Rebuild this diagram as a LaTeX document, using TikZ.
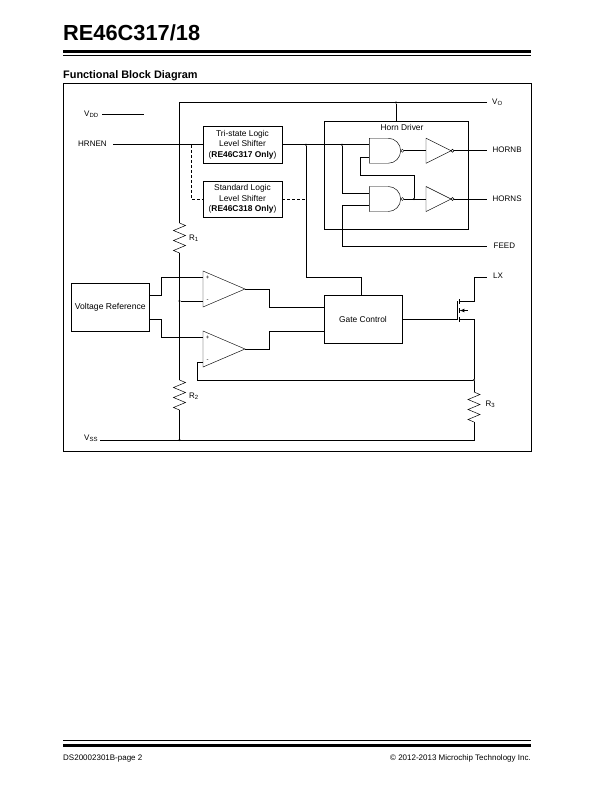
\documentclass[tikz,border=0pt]{standalone}
\usepackage{fontspec}
\setmainfont{Liberation Sans}
\usepackage{xcolor}
\usepackage{tikz}
\usetikzlibrary{shapes.geometric, shapes.gates.logic.US, decorations.pathmorphing, positioning, calc}

\begin{document}
\begin{tikzpicture}[
  x=1pt, y=-1pt,
  blockbox/.style={rectangle, draw, line width=0.7pt, inner sep=0pt, outer sep=0pt, font=\fontsize{8.4}{10.4}\selectfont, align=center},
  wire/.style={line width=0.7pt},
  dashwire/.style={line width=0.7pt, dash pattern=on 3pt off 2pt},
  pinlabel/.style={font=\fontsize{8}{9}\selectfont, inner sep=0pt, anchor=west},
  dot/.style={circle, fill, inner sep=0pt, minimum size=2.4pt},
  opamp/.style={isosceles triangle, isosceles triangle stretches, draw, line width=0.45pt, shape border rotate=0, minimum width=36pt, minimum height=42pt, inner sep=0pt, outer sep=0pt, anchor=lower side},
  nandgate/.style={nand gate US, draw, line width=0.45pt, logic gate inputs=nn, logic gate inverted radius=1.5pt, minimum width=31pt, minimum height=25pt, inner sep=0pt, outer sep=0pt},
  invgate/.style={isosceles triangle, isosceles triangle stretches, draw, line width=0.45pt, shape border rotate=0, minimum width=25pt, minimum height=25pt, inner sep=0pt, outer sep=0pt, anchor=lower side},
  bubble/.style={circle, draw, line width=0.45pt, inner sep=0pt, outer sep=0pt, minimum size=3pt, anchor=west},
  resistor/.style={line width=0.5pt, decorate, decoration={zigzag, segment length=10pt, amplitude=6pt}},
  signplus/.style={font=\fontsize{6}{6}\selectfont, inner sep=0pt}
]
  \useasboundingbox (0,0) rectangle (612,792);

  \node[font=\bfseries\fontsize{21.8}{24}\selectfont, inner sep=0pt, anchor=base west] (title) at (63,41) {RE46C317/18};
  \node[font=\bfseries\fontsize{10.9}{12}\selectfont, inner sep=0pt, anchor=base west] (heading) at (63,78.5) {Functional Block Diagram};
  \node[font=\fontsize{8}{9}\selectfont, inner sep=0pt, anchor=base west] (pageno) at (63,760.5) {DS20002301B-page 2};
  \node[font=\fontsize{8}{9}\selectfont, inner sep=0pt, anchor=base east] (copyr) at (531,760.5) {© 2012-2013 Microchip Technology Inc.};

  \coordinate (rt1) at (63,51.7);   \coordinate (rt2) at (531,51.7);
  \coordinate (rs1) at (63,55.3);   \coordinate (rs2) at (531,55.3);
  \coordinate (fs1) at (63,740.5);  \coordinate (fs2) at (531,740.5);
  \coordinate (ft1) at (63,745.7);  \coordinate (ft2) at (531,745.7);
  \draw[line width=3pt] (rt1) -- (rt2);
  \draw[line width=0.7pt] (rs1) -- (rs2);
  \draw[line width=0.9pt] (fs1) -- (fs2);
  \draw[line width=3pt] (ft1) -- (ft2);

  \node[blockbox, minimum width=467.5pt, minimum height=368pt] (frame) at (297.25,267.5) {};

  \node[blockbox] (shift1) at (242.5,144.75) [minimum width=79pt, minimum height=36.5pt] {Tri-state Logic\\Level Shifter\\(\textbf{RE46C317 Only})};
  \node[blockbox] (shift2) at (242.5,199) [minimum width=79pt, minimum height=36pt] {Standard Logic\\Level Shifter\\(\textbf{RE46C318 Only})};
  \node[blockbox] (horn) at (396,175.25) [minimum width=144pt, minimum height=108.5pt] {};
  \node[font=\fontsize{8.4}{9}\selectfont, inner sep=0pt] (hornlbl) at (402,127.5) {Horn Driver};
  \node[blockbox, font=\fontsize{8.6}{10}\selectfont] (vref) at (110.25,307) [minimum width=78.5pt, minimum height=48pt] {Voltage Reference};
  \node[blockbox] (gatectl) at (363,319) [minimum width=78pt, minimum height=48pt] {Gate Control};

  \node[opamp] (amp1) at (203,289) {};
  \node[opamp] (amp2) at (203,349) {};
  \node[signplus] (amp1p) at (207.5,278) {+};
  \node[signplus] (amp1m) at (207.5,300.5) {-};
  \node[signplus] (amp2p) at (207.5,338) {+};
  \node[signplus] (amp2m) at (207.5,361) {-};

  \node[nandgate] (nand1) at (384,150.75) {};
  \node[nandgate] (nand2) at (384,199) {};
  \node[invgate] (inv1) at (426,150.75) {};
  \node[invgate] (inv2) at (426,199) {};
  \node[bubble] (bub1) at (inv1.apex) {};
  \node[bubble] (bub2) at (inv2.apex) {};

  \node[pinlabel] (vdd) at (84,114.5) {V\textsubscript{DD}};
  \node[pinlabel] (hrnen) at (78,144) {HRNEN};
  \node[pinlabel] (vo) at (492,102) {V\textsubscript{O}};
  \node[pinlabel] (hornb) at (492.5,150) {HORNB};
  \node[pinlabel] (horns) at (492.5,198.5) {HORNS};
  \node[pinlabel] (feed) at (493.5,246) {FEED};
  \node[pinlabel] (lx) at (493,276) {LX};
  \node[pinlabel] (vss) at (84,438.5) {V\textsubscript{SS}};
  \node[pinlabel] (r1) at (189,238) {R\textsubscript{1}};
  \node[pinlabel] (r2) at (189,396) {R\textsubscript{2}};
  \node[pinlabel] (r3) at (485.5,404.5) {R\textsubscript{3}};

  \coordinate (vddend) at (144,114.5);
  \coordinate (vddstart) at (102,114.5);
  \draw[wire] (vddstart) -- (vddend);

  \coordinate (hrnenstart) at (113,144.75);
  \draw[wire] (hrnenstart) -- (shift1.west);
  \coordinate (dashsplit) at (191.5,144.75);
  \draw[dashwire] (dashsplit) |- (shift2.west);
  \coordinate (dashend) at (305,199);
  \draw[dashwire] (shift2.east) -- (dashend);

  \coordinate (railtop) at (179.5,102.5);
  \coordinate (voend) at (487,102.5);
  \coordinate (r1top) at (179.5,223);
  \coordinate (r1bot) at (179.5,253);
  \coordinate (r2top) at (179.5,380);
  \coordinate (r2bot) at (179.5,410);
  \node[dot] (jvo) at (396,102.5) {};
  \node[dot] (jminus) at (179.5,301) {};
  \node[dot] (jvss) at (179.5,440) {};
  \draw[wire] (voend) -- (railtop) -- (r1top);
  \draw[resistor] (r1top) -- (r1bot);
  \draw[wire] (r1bot) -- (r2top);
  \draw[resistor] (r2top) -- (r2bot);
  \draw[wire] (r2bot) -- (jvss);
  \draw[wire] (jvo) -- (jvo |- horn.north);

  \node[dot] (jlogic) at (306,144.75) {};
  \node[dot] (jnand) at (342,144.75) {};
  \coordinate (n1in1) at (368.5,144.75);
  \coordinate (n1in2) at (368.5,157.5);
  \coordinate (n2in1) at (368.5,193);
  \coordinate (n2in2) at (368.5,205.7);
  \draw[wire] (shift1.east) -- (n1in1);
  \draw[wire] (jnand) |- (n2in1);
  \coordinate (gatebend) at (361,277);
  \draw[wire] (jlogic) |- (gatebend) -- (gatebend |- gatectl.north);

  \coordinate (feedend) at (487,246.75);
  \draw[wire] (n2in2) -| (342,246.75) -- (feedend);

  \node[dot] (jfb) at (414,199) {};
  \coordinate (fbtop) at (414,175);
  \coordinate (fbleft) at (360,175);
  \draw[wire] (jfb) -- (fbtop) -- (fbleft) |- (n1in2);
  \draw[wire] (nand1.output) -- (inv1.lower side);
  \draw[wire] (nand2.output) -- (inv2.lower side);
  \coordinate (hornbend) at (487,150.75);
  \coordinate (hornsend) at (487,199);
  \draw[wire] (bub1.east) -- (hornbend);
  \draw[wire] (bub2.east) -- (hornsend);

  \coordinate (vr1) at (149.5,295);
  \coordinate (vr2) at (149.5,319);
  \coordinate (vrup) at (161,295);
  \coordinate (vrdn) at (161,319);
  \coordinate (ampin1) at (203,277.5);
  \coordinate (ampin2) at (203,337);
  \coordinate (ampin3) at (203,301);
  \coordinate (ampin4) at (203,362);
  \draw[wire] (vr1) -- (vrup) |- (ampin1);
  \draw[wire] (vr2) -- (vrdn) |- (ampin2);
  \draw[wire] (jminus) -- (ampin3);

  \coordinate (ampout1) at (269,289);
  \coordinate (ampout2) at (269,349);
  \coordinate (gcin1) at (324,307);
  \coordinate (gcin2) at (324,331);
  \draw[wire] (amp1.apex) -- (ampout1) |- (gcin1);
  \draw[wire] (amp2.apex) -- (ampout2) |- (gcin2);

  \node[dot] (jfbk) at (474,380) {};
  \coordinate (fbkleft) at (197,380);
  \draw[wire] (ampin4) -- (197,362) -- (fbkleft) -- (jfbk);

  \coordinate (gateplate) at (457.5,319);
  \coordinate (gatetop) at (457.5,300.5);
  \draw[wire] (gatectl.east) -- (gateplate);
  \draw[wire] (gateplate) -- (gatetop);
  \coordinate (ch1a) at (459.5,299);   \coordinate (ch1b) at (459.5,304);
  \coordinate (ch2a) at (459.5,308);   \coordinate (ch2b) at (459.5,313);
  \coordinate (ch3a) at (459.5,317);   \coordinate (ch3b) at (459.5,322);
  \draw[wire] (ch1a) -- (ch1b);
  \draw[wire] (ch2a) -- (ch2b);
  \draw[wire] (ch3a) -- (ch3b);
  \coordinate (drain) at (459.5,301.5);
  \coordinate (drainup) at (474,277);
  \coordinate (lxend) at (487,277);
  \draw[wire] (drain) -| (drainup) -- (lxend);
  \coordinate (source) at (459.5,319.5);
  \coordinate (r3top) at (474,392);
  \coordinate (r3bot) at (474,422);
  \draw[wire] (source) -| (jfbk) -- (r3top);
  \draw[resistor] (r3top) -- (r3bot);
  \coordinate (body) at (467.5,310.5);
  \coordinate (bodytip) at (459.5,310.5);
  \draw[wire, -latex] (body) -- (bodytip);

  \coordinate (vssstart) at (100,440);
  \coordinate (vssright) at (474,440);
  \draw[wire] (vssstart) -- (vssright) -- (r3bot);
\end{tikzpicture}
\end{document}
